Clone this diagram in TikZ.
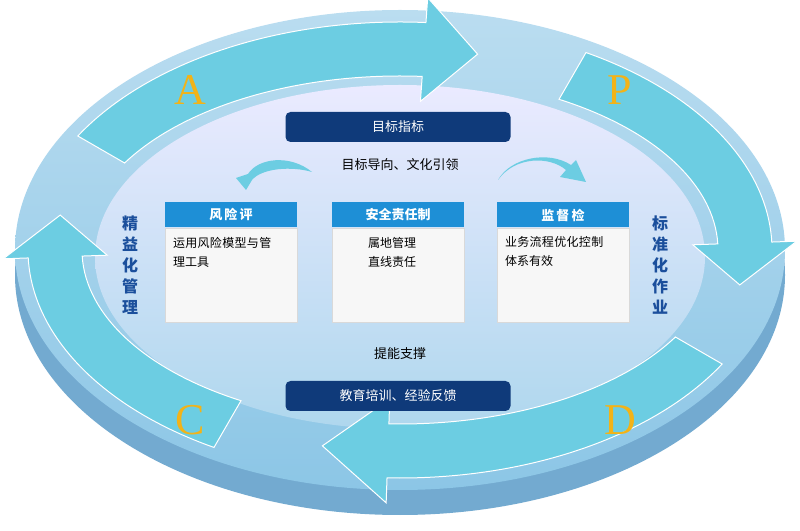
\documentclass[tikz,border=0pt]{standalone}
\usepackage{fontspec}
\setmainfont{Noto Sans CJK SC}
\newfontfamily\letterfont{Liberation Serif}
\XeTeXlinebreaklocale "zh"
\XeTeXlinebreakskip=0pt plus 1pt
\usetikzlibrary{positioning}
\definecolor{navy}{HTML}{0F3A7A}
\definecolor{headblue}{HTML}{1E8FD6}
\definecolor{ringblue}{HTML}{8CC6E6}
\definecolor{arrowcyan}{HTML}{6CCDE2}
\definecolor{pdcagold}{HTML}{F2B318}
\definecolor{sidetext}{HTML}{1B4F9C}
\tikzset{
  arrowfill/.style={fill=arrowcyan,draw=white,line width=1pt},
  banner/.style={fill=navy,text=white,rounded corners=5pt,minimum width=225pt,minimum height=30pt,font=\fontsize{13}{15}\selectfont},
  boxhead/.style={fill=headblue,text=white,minimum width=132pt,minimum height=25pt,font=\bfseries\fontsize{13}{15}\selectfont,inner sep=0pt},
  boxbody/.style={fill=gray!6,draw=gray!30,minimum width=132pt,minimum height=94pt,anchor=north},
  boxtext/.style={anchor=north west,align=left,text width=106pt,font=\fontsize{12}{19}\selectfont,inner sep=0pt},
  caption/.style={font=\fontsize{13}{15}\selectfont},
  letter/.style={text=pdcagold,font=\letterfont\fontsize{44}{44}\selectfont},
  sidelabel/.style={text=sidetext,font=\bfseries\fontsize{16}{21}\selectfont,align=center}
}
\newcommand{\pdcaarrow}[3]{%
  \fill[arrowfill] ({400+372*cos(#1)},{280+228*sin(#1)})
    arc[start angle=#1,end angle=#2,x radius=372,y radius=228]
    -- ({400+397*cos(#2)},{280+253*sin(#2)})
    -- ({400+345*cos(#3)},{280+201*sin(#3)})
    -- ({400+293*cos(#2)},{280+149*sin(#2)})
    -- ({400+318*cos(#2)},{280+174*sin(#2)})
    arc[start angle=#2,end angle=#1,x radius=318,y radius=174] -- cycle;}
\begin{document}
\begin{tikzpicture}[x=1pt,y=1pt]
    \useasboundingbox (0,0) rectangle (800,530);

    % ring with base
    \fill[ringblue!80!navy] (400,255) ellipse[x radius=385,y radius=240];
    \shade[top color=ringblue!60,bottom color=ringblue] (400,280) ellipse[x radius=385,y radius=240];
    \shade[top color=blue!8,bottom color=ringblue!70] (400,273) ellipse[x radius=305,y radius=172];

    % PDCA arrows
    \pdcaarrow{150}{86}{77}
    \pdcaarrow{60}{2}{-10}
    \pdcaarrow{-30}{-92}{-103}
    \pdcaarrow{240}{182}{170}

    \node[letter] (la) at (190,440) {A};
    \node[letter] (lp) at (620,440) {P};
    \node[letter] (lc) at (190,110) {C};
    \node[letter] (ld) at (620,110) {D};

    % banners and captions
    \node[banner] (goal) at (398,403) {目标指标};
    \node[caption] (guide) at (400,365) {目标导向、文化引领};
    \node[caption] (support) at (400,176) {提能支撑};
    \node[banner] (edu) at (398,134) {教育培训、经验反馈};

    % three boxes
    \node[boxhead] (risk) at (231,315) {风\,险\,评};
    \node[boxbody,below=0pt of risk] (riskbody) {};
    \node[boxtext] at ([xshift=8pt,yshift=-9pt]riskbody.north west) {运用风险模型与管理工具};
    \node[boxhead] (duty) at (398,315) {安全责任制};
    \node[boxbody,below=0pt of duty] (dutybody) {};
    \node[boxtext] at ([xshift=36pt,yshift=-9pt]dutybody.north west) {属地管理\\直线责任};
    \node[boxhead] (check) at (563,315) {监\,督\,检};
    \node[boxbody,below=0pt of check] (checkbody) {};
    \node[boxtext] at ([xshift=8pt,yshift=-9pt]checkbody.north west) {业务流程优化控制体系有效};

    % small curved arrows
    \fill[arrowcyan] (312,358) .. controls (290,376) and (258,372) .. (248,356)
        -- (236,352) -- (246,340) -- (252,350) .. controls (262,362) and (292,364) .. cycle;
    \fill[arrowcyan] (498,350) .. controls (515,374) and (550,374) .. (566,360)
        -- (560,353) -- (586,348) -- (576,370) -- (571,365) .. controls (548,380) and (510,372) .. cycle;

    \node[sidelabel] (lean) at (130,265) {精\\益\\化\\管\\理};
    \node[sidelabel] (std) at (660,265) {标\\准\\化\\作\\业};

\end{tikzpicture}
\end{document}
